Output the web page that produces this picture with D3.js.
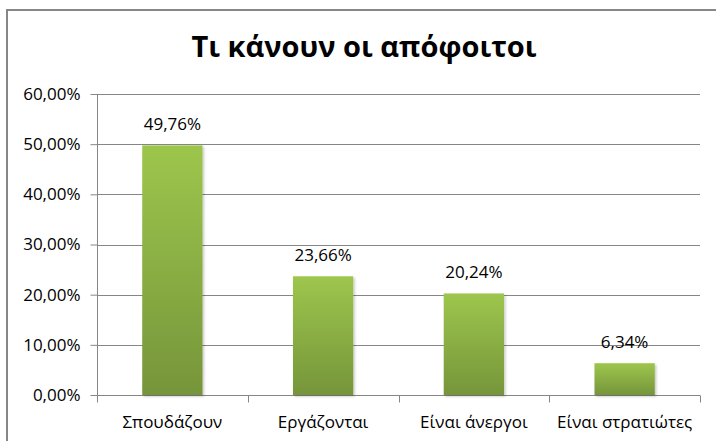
<!DOCTYPE html>
<html>
<head>
<meta charset="utf-8">
<script src="https://cdn.jsdelivr.net/npm/d3@7"></script>
<style>
  html, body { margin: 0; padding: 0; background: #fff; overflow: hidden; }
  text { font-family: "Open Sans", "Noto Sans", sans-serif; fill: #000; }
</style>
</head>
<body>
<script>
const categories = ["Σπουδάζουν", "Εργάζονται", "Είναι άνεργοι", "Είναι στρατιώτες"];
const values = [49.76, 23.66, 20.24, 6.34];
const yTicks = [0, 10, 20, 30, 40, 50, 60];
const title = "Τι κάνουν οι απόφοιτοι";

const width = 716;
const height = 441;
const margin = { top: 94, right: 16, bottom: 46, left: 97 };

const locale = d3.formatLocale({ decimal: ",", thousands: ".", grouping: [3], currency: ["", "€"] });
const fmt = v => locale.format(".2f")(v) + "%";

const svg = d3.select("body").append("svg")
  .attr("width", width)
  .attr("height", height);

const defs = svg.append("defs");
const grad = defs.append("linearGradient")
  .attr("id", "barGrad")
  .attr("x1", 0).attr("y1", 0).attr("x2", 0).attr("y2", 1);
grad.append("stop").attr("offset", "0%").attr("stop-color", "#9dc64d");
grad.append("stop").attr("offset", "100%").attr("stop-color", "#76953a");

const shadow = defs.append("filter").attr("id", "shadow")
  .attr("x", "-20%").attr("y", "-20%").attr("width", "140%").attr("height", "140%");
shadow.append("feDropShadow")
  .attr("dx", 1.5).attr("dy", 1.5).attr("stdDeviation", 1.2)
  .attr("flood-color", "#000").attr("flood-opacity", 0.22);

// chart frame
svg.append("rect")
  .attr("x", 7).attr("y", 10)
  .attr("width", width + 20).attr("height", height + 20)
  .attr("fill", "none")
  .attr("stroke", "#878787")
  .attr("stroke-width", 2);

// title
svg.append("text")
  .attr("x", 364)
  .attr("y", 57)
  .attr("text-anchor", "middle")
  .style("font-size", "29px")
  .style("font-weight", "bold")
  .text(title);

// x 척도
const xScale = d3.scaleBand()
  .domain(categories)
  .range([margin.left, width - margin.right])
  .paddingInner(0.6)
  .paddingOuter(0.3);

// y 척도
const yScale = d3.scaleLinear()
  .domain([0, 60])
  .range([height - margin.bottom, margin.top]);

// gridlines
svg.append("g")
  .selectAll("line")
  .data(yTicks.filter(d => d > 0))
  .join("line")
  .attr("x1", margin.left)
  .attr("x2", width - margin.right)
  .attr("y1", d => Math.round(yScale(d)) + 0.5)
  .attr("y2", d => Math.round(yScale(d)) + 0.5)
  .attr("stroke", "#868686");

// y 축
const yAxis = d3.axisLeft(yScale)
  .tickValues(yTicks)
  .tickSize(7)
  .tickPadding(10)
  .tickFormat(fmt);

const gy = svg.append("g")
  .attr("transform", "translate(" + (margin.left + 0.5) + ",0)")
  .call(yAxis);
gy.selectAll("text").style("font-size", "17px").attr("fill", "#000");
gy.selectAll("line, path").attr("stroke", "#868686");
gy.select(".domain").attr("d", "M0," + yScale(60) + "V" + yScale(0));

// x 축 (tick marks at band boundaries)
const xPos = d3.scalePoint()
  .domain(d3.range(categories.length + 1))
  .range([margin.left, width - margin.right]);

const gx = svg.append("g")
  .attr("transform", "translate(0," + (Math.round(yScale(0)) + 0.5) + ")");
gx.append("line")
  .attr("x1", margin.left).attr("x2", width - margin.right)
  .attr("stroke", "#868686");
gx.selectAll(".tick")
  .data(xPos.domain())
  .join("line")
  .attr("class", "tick")
  .attr("x1", d => Math.round(xPos(d)) + 0.5)
  .attr("x2", d => Math.round(xPos(d)) + 0.5)
  .attr("y1", 0).attr("y2", 7)
  .attr("stroke", "#868686");
gx.selectAll(".cat")
  .data(categories)
  .join("text")
  .attr("class", "cat")
  .attr("x", d => xScale(d) + xScale.bandwidth() / 2)
  .attr("y", 32)
  .attr("text-anchor", "middle")
  .style("font-size", "17px")
  .text(d => d);

// bars
svg.append("g")
  .selectAll("rect")
  .data(values)
  .join("rect")
  .attr("x", (d, i) => xScale(categories[i]))
  .attr("y", d => yScale(d))
  .attr("width", xScale.bandwidth())
  .attr("height", d => yScale(0) - yScale(d))
  .attr("fill", "url(#barGrad)")
  .attr("filter", "url(#shadow)");

// value labels
svg.append("g")
  .selectAll("text")
  .data(values)
  .join("text")
  .attr("x", (d, i) => xScale(categories[i]) + xScale.bandwidth() / 2)
  .attr("y", d => yScale(d) - 15)
  .attr("text-anchor", "middle")
  .style("font-size", "17px")
  .text(d => fmt(d));
</script>
</body>
</html>
